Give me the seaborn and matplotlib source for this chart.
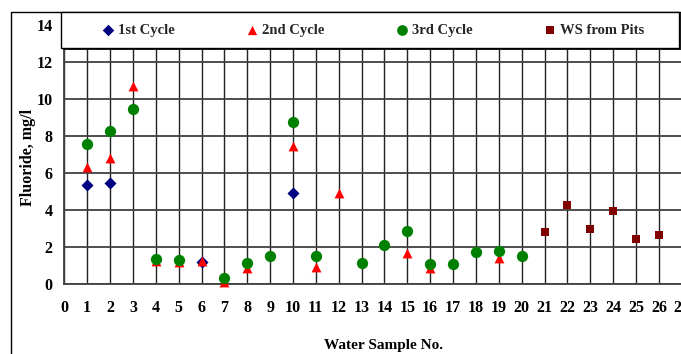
import numpy as np
import pandas as pd
import matplotlib
matplotlib.use("Agg")
import matplotlib.pyplot as plt
import seaborn as sns
from matplotlib.patches import Rectangle
from matplotlib.font_manager import FontProperties

# ---- data ----
cycle1_x = [1, 2, 6, 10]
cycle1_y = [5.37, 5.50, 1.22, 4.92]
cycle2_x = [1, 2, 3, 4, 5, 6, 7, 8, 10, 11, 12, 15, 16, 19]
cycle2_y = [6.36, 6.85, 10.70, 1.24, 1.22, 1.27, 0.12, 0.86, 7.50, 0.96, 4.93, 1.70, 0.86, 1.42]
cycle3_x = [1, 2, 3, 4, 5, 7, 8, 9, 10, 11, 13, 14, 15, 16, 17, 18, 19, 20]
cycle3_y = [7.58, 8.29, 9.50, 1.36, 1.29, 0.33, 1.16, 1.55, 8.79, 1.55, 1.15, 2.10, 2.90, 1.10, 1.08, 1.75, 1.80, 1.55]
pits_x = [21, 22, 23, 24, 25, 26]
pits_y = [2.81, 4.29, 3.00, 3.96, 2.43, 2.68]
series_names = ["1st Cycle", "2nd Cycle", "3rd Cycle", "WS from Pits"]
x_ticks = list(range(0, 28))
y_ticks = list(range(0, 15, 2))

sns.set_theme(style="white")
plt.rcParams["font.family"] = ["Liberation Serif", "DejaVu Serif"]
plt.rcParams["font.weight"] = "bold"

W, H = 681, 354
fig = plt.figure(figsize=(W / 100, H / 100), dpi=100)
fig.patch.set_facecolor("white")

x0, x27 = 64.3, 681.8
y0, y14 = 284.3, 25.3
ax = fig.add_axes([x0 / W, (H - y0) / H, (x27 - x0) / W, (y0 - y14) / H])

series = [
    (cycle1_x, cycle1_y, series_names[0], "#000080", "D", 38),
    (cycle2_x, cycle2_y, series_names[1], "#FF0000", "^", 50),
    (cycle3_x, cycle3_y, series_names[2], "#008000", "o", 66),
    (pits_x, pits_y, series_names[3], "#800000", "s", 38),
]
for xs, ys, name, col, mk, s in series:
    df = pd.DataFrame({"sample": xs, "fluoride": ys})
    sns.scatterplot(data=df, x="sample", y="fluoride", color=col, marker=mk, s=s,
                    linewidth=0, ax=ax, label=name, zorder=3, clip_on=False)

handles, labels = ax.get_legend_handles_labels()
if ax.get_legend() is not None:
    ax.get_legend().remove()

ax.set_xlim(0, 27)
ax.set_ylim(0, 14)
ax.set_xticks(x_ticks)
ax.set_yticks(y_ticks)
ax.set_xticklabels([str(v) for v in x_ticks])
ax.set_yticklabels([str(v) for v in y_ticks])

ax.set_axisbelow(True)
ax.xaxis.grid(True, color="#222222", linewidth=1.0)
ax.yaxis.grid(True, color="#404040", linewidth=1.3)
for side in ["top", "right"]:
    ax.spines[side].set_visible(False)
for side in ["left", "bottom"]:
    ax.spines[side].set_color("#404040")
    ax.spines[side].set_linewidth(1.3)

tick_font = 11.5
ax.tick_params(axis="y", direction="inout", length=6.5, width=1.0, color="#404040",
               pad=5, labelsize=tick_font, labelcolor="black")
ax.tick_params(axis="x", direction="out", length=3.5, width=1.0, color="#404040",
               pad=8, labelsize=tick_font, labelcolor="black")
for lab in ax.get_xticklabels() + ax.get_yticklabels():
    lab.set_fontweight("bold")

ax.set_xlabel("Water Sample No.", fontsize=11, fontweight="bold", color="black")
ax.set_ylabel("Fluoride, mg/l", fontsize=11.5, fontweight="bold", color="black")
ax.xaxis.set_label_coords((383 - x0) / (x27 - x0), (y0 - 339) / (y0 - y14))
ax.yaxis.set_label_coords((36 - x0) / (x27 - x0), (y0 - 157.5) / (y0 - y14))

# legend box (with a thin shadow) drawn over the top of the plot
lx0, lx1, ly0, ly1 = 61, 679, 12, 48
shadow = Rectangle(((lx0 + 1.5) / W, (H - ly1 - 1.5) / H), (lx1 - lx0) / W, (ly1 - ly0) / H,
                   transform=fig.transFigure, facecolor="#202020", edgecolor="none", zorder=4)
box = Rectangle((lx0 / W, (H - ly1) / H), (lx1 - lx0) / W, (ly1 - ly0) / H,
                transform=fig.transFigure, facecolor="white", edgecolor="black",
                linewidth=1.0, zorder=4.5)
fig.add_artist(shadow)
fig.add_artist(box)

leg = fig.legend(handles, labels, loc="center", bbox_to_anchor=(374 / W, 1 - 30 / H),
                 ncol=4, frameon=False, handlelength=0.6, handletextpad=0.35,
                 columnspacing=5.05, markerscale=0.95,
                 prop=FontProperties(family="Liberation Serif", weight="bold", size=10.5))
leg.set_zorder(6)

# outer chart frame (top and left edges visible)
frame = Rectangle((11 / W, -0.2), 1.2, (H - 12) / H + 0.2, transform=fig.transFigure,
                  fill=False, edgecolor="black", linewidth=1.0, zorder=3.5, clip_on=False)
fig.add_artist(frame)

fig.savefig("out.png", dpi=100, facecolor="white")
